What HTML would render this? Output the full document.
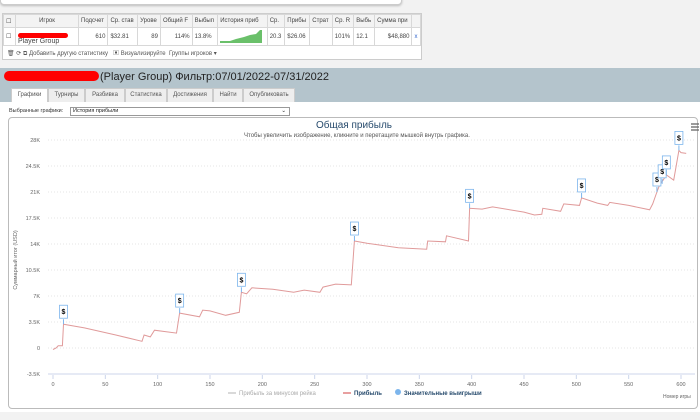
<!DOCTYPE html>
<html><head><meta charset="utf-8"><style>
body{margin:0;width:700px;height:420px;overflow:hidden;background:#f2f2f2;font-family:"Liberation Sans","Noto Sans CJK SC",sans-serif;position:relative}
.abs{position:absolute}
table{border-collapse:collapse;font-size:6px;color:#444}
td{border:1px solid #d8d8d8;padding:0 2px;white-space:nowrap;overflow:hidden}
.tab{position:absolute;top:88px;height:13px;background:#eee;border:1px solid #ccc;border-bottom:none;font-size:6px;color:#555;text-align:center;line-height:13px}
</style></head><body>
<div class="abs" style="left:0;top:-6px;width:400px;height:9px;background:#fff;border:1px solid #ccc;border-radius:4px;box-shadow:0 1px 2px #bbb"></div>
<div class="abs" style="left:2px;top:13px;width:418px;height:45px;background:#fff;border:1px solid #ccc">
<table style="width:418px">
<tr style="height:13px;background:#f3f3f3"><td style="width:7px">☐</td><td style="width:58px;text-align:center">Игрок</td><td>Подсчет</td><td>Ср. став</td><td>Урове</td><td>Общий F</td><td>Выбып</td><td>История приб</td><td>Ср.</td><td>Прибы</td><td>Страт</td><td>Ср. R</td><td>Выбь</td><td>Сумма при</td><td></td></tr>
<tr style="height:18px"><td>☐</td><td style="font-size:7px;vertical-align:bottom"><span style="display:block;background:#f00;height:5px;width:50px;border-radius:3px"></span>Player Group</td><td style="text-align:right">610</td><td>$32.81</td><td style="text-align:right">89</td><td style="text-align:right">114%</td><td>13.8%</td><td><svg width="42" height="14"><polygon points="0,14 0,12 10,12 16,10 24,8 30,6 36,5 40,1 42,1 42,14" fill="#6ac06a"/></svg></td><td>20.3</td><td>$26.06</td><td></td><td>101%</td><td>12.1</td><td style="text-align:right">$48,880</td><td style="color:#36c">x</td></tr>
</table>
<div style="font-size:6px;color:#555;padding:2px 4px">🗑 ⟳ ⧉ <span>Добавить другую статистику</span> &nbsp; ▣ <span>Визуализируйте</span> &nbsp;<span>Группы игроков ▾</span></div>
</div>
<div class="abs" style="left:0;top:68px;width:700px;height:34px;background:#b4c4cc"></div>
<div class="abs" style="left:4px;top:71px;width:95px;height:10px;background:#f00;border-radius:5px"></div>
<div class="abs" style="left:100px;top:71px;font-size:11px;color:#222">(Player Group) Фильтр:07/01/2022-07/31/2022</div>
<div class="tab" style="left:11px;width:35px;background:#fff">Графики</div>
<div class="tab" style="left:48px;width:35px">Турниры</div>
<div class="tab" style="left:85px;width:38px">Разбивка</div>
<div class="tab" style="left:125px;width:40px">Статистика</div>
<div class="tab" style="left:167px;width:44px">Достижения</div>
<div class="tab" style="left:213px;width:28px">Найти</div>
<div class="tab" style="left:243px;width:50px">Опубликовать</div>
<div class="abs" style="left:0;top:102px;width:700px;height:310px;background:#fff"></div>
<div class="abs" style="left:9px;top:108px;font-size:5.5px;color:#333">Выбранные графики:</div>
<div class="abs" style="left:70px;top:107px;width:216px;height:7px;border:1px solid #999;font-size:5.5px;line-height:7px;padding-left:2px;color:#222">История прибыли<span style="float:right;padding-right:3px">⌄</span></div>
<div class="abs" style="left:8px;top:117px;width:688px;height:290px;border:1px solid #bbb;border-radius:4px;background:#fff"></div>
<svg class="abs" style="left:0;top:0" width="700" height="420">
<g id="grid"></g><g id="lines"></g><g id="marks"></g>
<text x="354" y="128" text-anchor="middle" font-size="10" fill="#274b6d" font-family="Liberation Sans">Общая прибыль</text>
<text x="357" y="137" text-anchor="middle" font-size="6" fill="#555" font-family="Liberation Sans">Чтобы увеличить изображение, кликните и перетащите мышкой внутрь графика.</text>
<g stroke="#666" stroke-width="1.3"><line x1="691" y1="124" x2="699" y2="124"/><line x1="691" y1="127" x2="699" y2="127"/><line x1="691" y1="130" x2="699" y2="130"/></g>
<text transform="translate(17,260) rotate(-90)" text-anchor="middle" font-size="5.5" fill="#666" font-family="Liberation Sans">Суммарный итог (USD)</text>
<text x="663" y="398" font-size="5" fill="#666" font-family="Liberation Sans">Номер игры</text>
<g font-size="6" font-family="Liberation Sans">
<line x1="228" y1="393" x2="236" y2="393" stroke="#ccc" stroke-width="1.5"/><text x="239" y="395" fill="#aaa">Прибыль за минусом рейка</text>
<line x1="343" y1="393" x2="351" y2="393" stroke="#e08080" stroke-width="1.5"/><text x="354" y="395" fill="#274b6d" font-weight="bold">Прибыль</text>
<circle cx="398" cy="392" r="3" fill="#7cb5ec"/><text x="404" y="395" fill="#274b6d" font-weight="bold">Значительные выигрыши</text>
</g>
</svg>
<script>
const yTicks=[-3500,0,3500,7000,10500,14000,17500,21000,24500,28000];
const yTickLabels=["-3.5K","0","3.5K","7K","10.5K","14K","17.5K","21K","24.5K","28K"];
const xTicks=[0,50,100,150,200,250,300,350,400,450,500,550,600];
const games=[0,3,5,9,10,30,60,85,87,93,97,118,121,140,143,150,165,178,180,185,190,210,230,240,255,258,270,285,288,300,330,357,358,375,376,397,398,410,420,450,460,467,468,485,488,503,505,520,530,532,550,570,573,577,580,583,586,593,598,600,605];
const profit=[-200,0,300,300,3200,2700,1750,900,1750,1500,2400,2000,4700,4200,5100,5000,4400,4800,7500,7300,8100,7900,7500,7800,7500,8200,8600,8500,14400,14100,13500,13300,14400,14300,15100,14400,18800,18700,19000,18300,17900,18000,18800,18400,19400,19200,20200,19500,19200,19600,19200,18600,19400,21000,22100,22600,23300,22600,26600,26300,26200];
const winGames=[10,121,180,288,398,505,577,582,586,598];
const winValues=[3200,4700,7500,14400,18800,20200,21000,22100,23300,26600];
const NS="http://www.w3.org/2000/svg";
const X=g=>53+g*(628/600);
const Y=v=>348-v*(26/3500);
const grid=document.getElementById('grid'),lines=document.getElementById('lines'),marks=document.getElementById('marks');
yTicks.forEach((t,i)=>{
 const l=document.createElementNS(NS,'line');
 
 
 l.setAttribute('x1',48);l.setAttribute('x2',695);l.setAttribute('y1',Y(t));l.setAttribute('y2',Y(t));
 l.setAttribute('stroke',i==0?'#ccd6eb':'#ddd');l.setAttribute('stroke-dasharray',i==0?'':'1,2');l.setAttribute('stroke-width',i==0?1:0.7);
 grid.appendChild(l);
 const tx=document.createElementNS(NS,'text');
 
 
 tx.setAttribute('x',40);tx.setAttribute('y',Y(t)+2);tx.setAttribute('text-anchor','end');tx.setAttribute('font-size','5.5');tx.setAttribute('fill','#666');tx.setAttribute('font-family','Liberation Sans');
 tx.textContent=yTickLabels[i];grid.appendChild(tx);
});
xTicks.forEach(t=>{
 const tk=document.createElementNS(NS,'line');
 
 
 tk.setAttribute('x1',X(t));tk.setAttribute('x2',X(t));tk.setAttribute('y1',375);tk.setAttribute('y2',379);tk.setAttribute('stroke','#ccd6eb');
 grid.appendChild(tk);
 const tx=document.createElementNS(NS,'text');
 
 
 tx.setAttribute('x',X(t));tx.setAttribute('y',386);tx.setAttribute('text-anchor','middle');tx.setAttribute('font-size','5.5');tx.setAttribute('fill','#666');tx.setAttribute('font-family','Liberation Sans');
 tx.textContent=t;grid.appendChild(tx);
});
let d='';
games.forEach((g,i)=>{d+=(i?'L':'M')+X(g).toFixed(1)+','+Y(profit[i]).toFixed(1);});
const p=document.createElementNS(NS,'path');


p.setAttribute('d',d);p.setAttribute('fill','none');p.setAttribute('stroke','#e09a9a');p.setAttribute('stroke-width','1');
lines.appendChild(p);
winGames.forEach((g,i)=>{
 const x=X(g),y=Y(winValues[i]);
 const gr=document.createElementNS(NS,'g');
 
 
 gr.innerHTML=`<line x1="${x}" y1="${y}" x2="${x}" y2="${y-5}" stroke="#7cb5ec"/><rect x="${x-4}" y="${y-19}" width="8" height="13" fill="#fff" stroke="#7cb5ec" stroke-width="0.8"/><text x="${x}" y="${y-10}" text-anchor="middle" font-size="7" font-weight="bold" fill="#000" font-family="Liberation Sans">$</text>`;
 marks.appendChild(gr);
});
</script>
</body></html>
